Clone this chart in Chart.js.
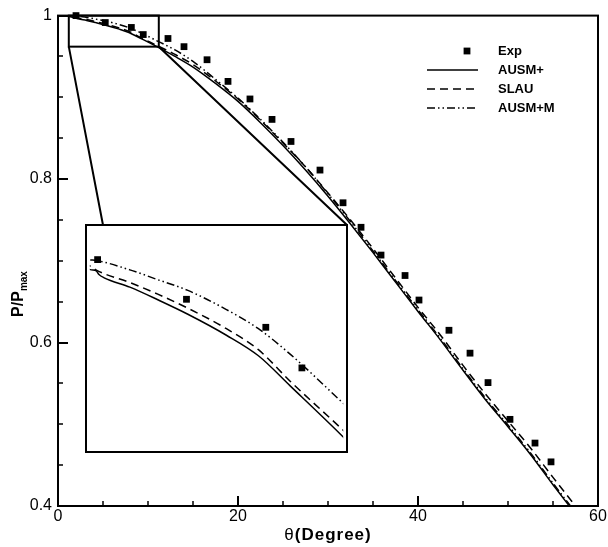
<!DOCTYPE html>
<html><head><meta charset="utf-8">
<script src="https://cdn.jsdelivr.net/npm/chart.js@4"></script>
<style>
html,body{margin:0;padding:0;background:#fff;}
#wrap{position:relative;width:608px;height:547px;background:#fff;}
#main{position:absolute;left:0;top:0;width:608px;height:547px;}
#inset{position:absolute;left:85px;top:224px;width:263px;height:229px;}
</style></head><body>
<div id="wrap"><canvas id="main" width="608" height="547"></canvas><canvas id="inset" width="263" height="229"></canvas></div>
<script>
// ---------- data ----------
const expTheta = [2.0, 5.25, 8.15, 9.47, 12.22, 14.0, 16.56, 18.89, 21.33, 23.78, 25.89, 29.11, 31.67, 33.67, 35.89, 38.56, 40.11, 43.44, 45.78, 47.78, 50.22, 53.0, 54.78];
const expP     = [1.0, 0.9915, 0.9855, 0.9768, 0.972, 0.962, 0.946, 0.9195, 0.898, 0.873, 0.846, 0.811, 0.771, 0.741, 0.707, 0.682, 0.652, 0.615, 0.587, 0.551, 0.506, 0.477, 0.454];

const ausmTheta = [0.3, 1.0, 1.77, 1.95, 2.05, 2.24, 3.18, 4.2, 5.3, 6.71, 7.88, 9.05, 10.88, 13, 15, 17.5, 20, 22.5, 25, 27.5, 30, 32.5, 35, 37.5, 40, 42.5, 45, 47.5, 50, 52.5, 55, 57.5];
const ausmP     = [1.0, 0.9995, 0.9978, 0.9976, 0.9968, 0.9961, 0.9941, 0.9914, 0.9883, 0.9838, 0.9794, 0.9729, 0.9626, 0.950, 0.937, 0.917, 0.895, 0.869, 0.841, 0.811, 0.779, 0.745, 0.710, 0.674, 0.638, 0.603, 0.566, 0.530, 0.497, 0.463, 0.426, 0.390];

const slauTheta = [0.3, 1.0, 1.77, 1.97, 3.18, 4.2, 5.3, 6.71, 7.88, 9.05, 10.88, 13, 15, 17.5, 20, 22.5, 25, 27.5, 30, 32.5, 35, 37.5, 40, 42.5, 45, 47.5, 50, 52.5, 55, 57.5, 58];
const slauP     = [1.0, 0.9996, 0.9985, 0.9977, 0.9951, 0.9926, 0.9896, 0.9852, 0.9807, 0.9739, 0.9640, 0.9525, 0.940, 0.920, 0.898, 0.872, 0.844, 0.815, 0.783, 0.750, 0.715, 0.679, 0.643, 0.609, 0.572, 0.537, 0.504, 0.471, 0.435, 0.400, 0.393];

const ausmMTheta = [0.3, 1.0, 1.77, 1.97, 3.18, 4.2, 5.3, 6.71, 7.88, 9.05, 10.82, 13, 15, 17.5, 20, 22.5, 25, 27.5, 30, 32.5, 35, 37.5, 40, 42.5, 45, 47.5, 50, 52.5, 55, 57.5];
const ausmMP     = [1.0, 1.0, 0.9999, 0.9998, 0.9978, 0.9957, 0.9934, 0.9893, 0.9852, 0.9797, 0.9701, 0.958, 0.944, 0.922, 0.899, 0.873, 0.845, 0.815, 0.782, 0.748, 0.712, 0.676, 0.640, 0.605, 0.568, 0.532, 0.499, 0.465, 0.428, 0.392];

const seriesNames = ['Exp', 'AUSM+', 'SLAU', 'AUSM+M'];
const xTickLabels = [0, 20, 40, 60];
const yTickLabels = [0.4, 0.6, 0.8, 1];

// ---------- styles / layout config ----------
const FONT = "'Liberation Sans', Arial, sans-serif";
const DASH = [];
const DASHED = [8, 5];
const DASHDOT = [8, 3, 1.5, 3, 1.5, 3];
const zoomBox = {x0: 1.2, x1: 11.2, y0: 0.962, y1: 1.0};
const INSET = {left: 85, top: 224, w: 263, h: 229};
const insetRange = {xmin: 1.715, xmax: 10.98, ymin: 0.9596, ymax: 1.0066};

const toXY = (xs, ys) => xs.map((v, i) => ({x: v, y: ys[i]}));

function makeDatasets() {
  const line = (name, xs, ys, dash) => ({
    label: name, data: toXY(xs, ys), showLine: true, pointRadius: 0,
    borderColor: '#000', borderWidth: 1.5, borderDash: dash,
    cubicInterpolationMode: 'monotone', fill: false
  });
  return [
    {label: seriesNames[0], data: toXY(expTheta, expP), showLine: false,
     pointStyle: 'rect', pointRadius: 4.8, backgroundColor: '#000', borderColor: '#000',
     borderWidth: 0, clip: false},
    line(seriesNames[1], ausmTheta, ausmP, DASH),
    line(seriesNames[2], slauTheta, slauP, DASHED),
    line(seriesNames[3], ausmMTheta, ausmMP, DASHDOT)
  ];
}

const decor = {
  id: 'decor',
  afterDraw(chart) {
    const {ctx, chartArea: a, scales: {x, y}} = chart;
    ctx.save();
    ctx.strokeStyle = '#000';
    ctx.fillStyle = '#000';
    ctx.setLineDash([]);
    // frame
    ctx.lineWidth = 2;
    ctx.strokeRect(a.left, a.top, a.right - a.left, a.bottom - a.top);
    // ticks (inward)
    ctx.beginPath();
    xTickLabels.forEach(v => { const p = Math.round(x.getPixelForValue(v)); ctx.moveTo(p, a.bottom); ctx.lineTo(p, a.bottom - 10); });
    yTickLabels.forEach(v => { const p = Math.round(y.getPixelForValue(v)); ctx.moveTo(a.left, p); ctx.lineTo(a.left + 10, p); });
    ctx.stroke();
    ctx.lineWidth = 1.5;
    ctx.beginPath();
    for (let v = 5; v < 60; v += 5) {
      if (xTickLabels.includes(v)) continue;
      const p = Math.round(x.getPixelForValue(v)); ctx.moveTo(p, a.bottom); ctx.lineTo(p, a.bottom - 5);
    }
    for (let k = 9; k < 20; k++) {
      const v = k * 0.05;
      if (k % 4 === 0) continue;
      const p = Math.round(y.getPixelForValue(v)); ctx.moveTo(a.left, p); ctx.lineTo(a.left + 5, p);
    }
    ctx.stroke();
    // zoom box and connectors
    ctx.lineWidth = 2;
    const bx0 = x.getPixelForValue(zoomBox.x0), bx1 = x.getPixelForValue(zoomBox.x1);
    const by0 = y.getPixelForValue(zoomBox.y0), by1 = y.getPixelForValue(zoomBox.y1);
    ctx.strokeRect(bx0, by1, bx1 - bx0, by0 - by1);
    ctx.beginPath();
    ctx.moveTo(bx0, by0); ctx.lineTo(INSET.left + 18, INSET.top + 1);
    ctx.moveTo(bx1, by0); ctx.lineTo(INSET.left + INSET.w - 1, INSET.top + 1);
    ctx.stroke();
    // legend
    const rows = [51, 70, 89, 108];
    const lx0 = 427, lx1 = 478, tx = 498;
    ctx.font = "bold 13px " + FONT;
    ctx.textBaseline = 'middle';
    ctx.textAlign = 'left';
    seriesNames.forEach((n, i) => {
      const ry = rows[i];
      if (i === 0) {
        ctx.fillRect(467 - 3.4, ry - 3.4, 6.8, 6.8);
      } else {
        ctx.lineWidth = 1.5;
        ctx.setLineDash([DASH, DASHED, DASHDOT][i - 1]);
        ctx.beginPath(); ctx.moveTo(lx0, ry); ctx.lineTo(lx1, ry); ctx.stroke();
        ctx.setLineDash([]);
      }
      ctx.fillText(n, tx, ry);
    });
    // x title
    ctx.letterSpacing = '1px';
    ctx.font = "17px " + FONT;
    const t1 = '\u03b8';
    const w1 = ctx.measureText(t1).width;
    ctx.font = "bold 17px " + FONT;
    const t2 = '(Degree)';
    const w2 = ctx.measureText(t2).width;
    const cx = (a.left + a.right) / 2;
    const sx = cx - (w1 + w2) / 2;
    ctx.textAlign = 'left';
    ctx.font = "17px " + FONT; ctx.fillText(t1, sx, 535);
    ctx.font = "bold 17px " + FONT; ctx.fillText(t2, sx + w1, 535);
    ctx.letterSpacing = '0px';
    // y title
    ctx.save();
    ctx.translate(19, 294);
    ctx.rotate(-Math.PI / 2);
    ctx.font = "bold 16px " + FONT;
    const m1 = 'P/P';
    const mw1 = ctx.measureText(m1).width;
    ctx.font = "bold 10px " + FONT;
    const m2 = 'max';
    const mw2 = ctx.measureText(m2).width;
    const s0 = -(mw1 + mw2) / 2;
    ctx.font = "bold 16px " + FONT;
    ctx.fillText(m1, s0, 0);
    ctx.font = "bold 10px " + FONT;
    ctx.fillText(m2, s0 + mw1, 5);
    ctx.restore();
    ctx.restore();
  }
};

new Chart(document.getElementById('main'), {
  type: 'scatter',
  data: {datasets: makeDatasets()},
  options: {
    responsive: false, animation: false, devicePixelRatio: 1,
    layout: {padding: {top: 15, right: 10, left: 0, bottom: 0}},
    plugins: {legend: {display: false}, tooltip: {enabled: false}},
    scales: {
      x: {
        type: 'linear', min: 0, max: 60,
        afterBuildTicks: s => { s.ticks = xTickLabels.map(v => ({value: v})); },
        afterFit: s => { s.height = 41; },
        grid: {display: false, drawTicks: false, tickLength: 0}, border: {display: false},
        ticks: {padding: 1, color: '#000', font: {family: FONT, size: 16}, maxRotation: 0, autoSkip: false}
      },
      y: {
        type: 'linear', min: 0.4, max: 1,
        afterBuildTicks: s => { s.ticks = yTickLabels.map(v => ({value: v})); },
        afterFit: s => { s.width = 58; },
        grid: {display: false, drawTicks: false, tickLength: 0}, border: {display: false},
        ticks: {padding: 6, color: '#000', font: {family: FONT, size: 16}, autoSkip: false,
                callback: v => String(v)}
      }
    }
  },
  plugins: [decor]
});

const insetFrame = {
  id: 'insetFrame',
  beforeDraw(chart) {
    const ctx = chart.ctx;
    ctx.save(); ctx.fillStyle = '#fff'; ctx.fillRect(0, 0, chart.width, chart.height); ctx.restore();
  },
  afterDraw(chart) {
    const ctx = chart.ctx;
    ctx.save(); ctx.strokeStyle = '#000'; ctx.lineWidth = 2; ctx.setLineDash([]);
    ctx.strokeRect(1, 1, chart.width - 2, chart.height - 2);
    ctx.restore();
  }
};

new Chart(document.getElementById('inset'), {
  type: 'scatter',
  data: {datasets: makeDatasets()},
  options: {
    responsive: false, animation: false, devicePixelRatio: 1,
    layout: {padding: 0},
    plugins: {legend: {display: false}, tooltip: {enabled: false}},
    scales: {
      x: {type: 'linear', display: false, min: insetRange.xmin, max: insetRange.xmax},
      y: {type: 'linear', display: false, min: insetRange.ymin, max: insetRange.ymax}
    }
  },
  plugins: [insetFrame]
});
</script>
</body></html>
